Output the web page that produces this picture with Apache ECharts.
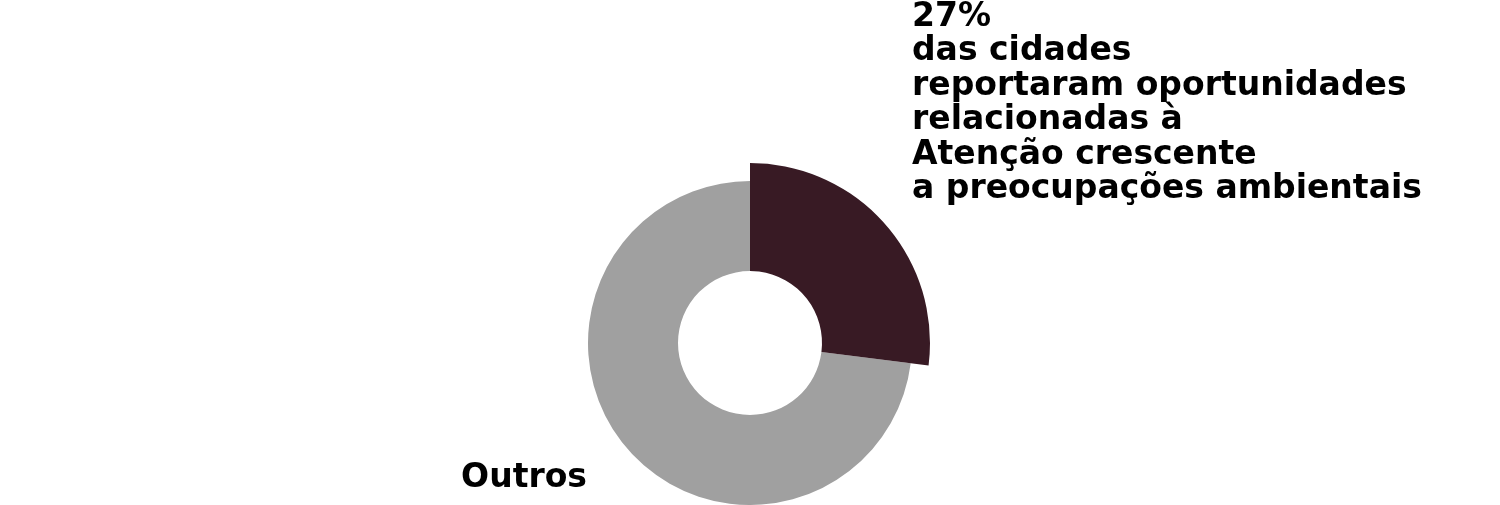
<!DOCTYPE html>
<html>
<head>
<meta charset="utf-8">
<script src="https://cdn.jsdelivr.net/npm/echarts@6/dist/echarts.min.js"></script>
<style>html,body{margin:0;padding:0;background:#fff}#c{width:1500px;height:505px}</style>
</head>
<body>
<div id="c"></div>
<script>
const categories = ['27%\ndas cidades\nreportaram oportunidades\nrelacionadas à\nAtenção crescente\na preocupações ambientais', 'Outros'];
const values = [27, 73];
const colors = ['#381a24', '#a0a0a0'];

const chart = echarts.init(document.getElementById('c'), null, {renderer: 'canvas'});
const labelFont = {fontFamily: "'DejaVu Sans', sans-serif", fontWeight: 'bold', fontSize: 33, lineHeight: 34.5, color: '#000'};

const baseData = categories.map((n, i) => ({
  name: n, value: values[i],
  itemStyle: {color: i === 1 ? colors[1] : 'rgba(0,0,0,0)'},
  label: {show: i === 1}
}));
const highlightData = categories.map((n, i) => ({
  name: n, value: values[i],
  itemStyle: {color: i === 0 ? colors[0] : 'rgba(0,0,0,0)'},
  label: {show: i === 0}
}));

chart.setOption({
  animation: false,
  series: [
    {
      type: 'pie', center: [750, 343], radius: [72, 162], startAngle: 90, clockwise: true,
      silent: true, data: baseData,
      label: Object.assign({position: 'outside', formatter: '{b}'}, labelFont),
      labelLine: {show: false},
      labelLayout: function (p) { return {x: 587, y: 478, align: 'right', verticalAlign: 'middle'}; }
    },
    {
      type: 'pie', center: [750, 343], radius: [72, 180], startAngle: 90, clockwise: true,
      silent: true, data: highlightData,
      label: Object.assign({position: 'outside', formatter: '{b}'}, labelFont),
      labelLine: {show: false},
      labelLayout: function (p) { return {x: 912, y: 207, align: 'left', verticalAlign: 'bottom'}; }
    }
  ]
});
</script>
</body>
</html>
